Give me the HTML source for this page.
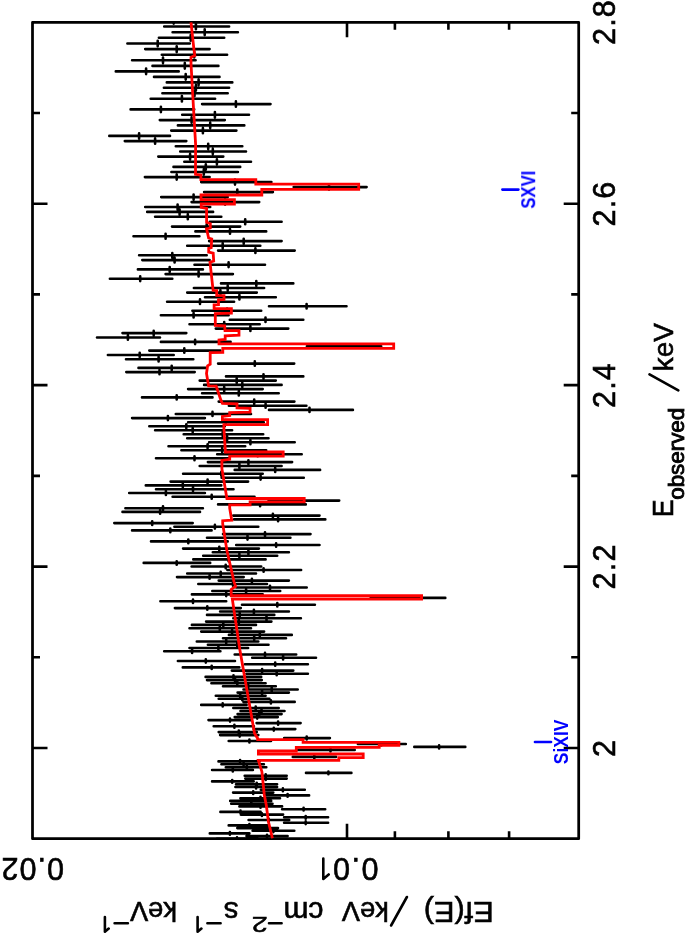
<!DOCTYPE html>
<html><head><meta charset="utf-8"><title>plot</title>
<style>html,body{margin:0;padding:0;background:#fff}svg{display:block}text{font-family:"Liberation Sans",sans-serif;fill:#000}</style></head><body>
<svg width="686" height="935" viewBox="0 0 686 935">
<rect x="0" y="0" width="686" height="935" fill="#fff"/>
<defs><clipPath id="c"><rect x="31.2" y="21.0" width="548.8" height="819.0"/></clipPath></defs>
<rect x="32.5" y="22.3" width="546.2" height="816.4" fill="none" stroke="#000" stroke-width="2.75" stroke-linejoin="round"/>
<path d="M32.5 748.0h15.0M578.7 748.0h-15.0M32.5 657.3h7.5M578.7 657.3h-7.5M32.5 566.6h15.0M578.7 566.6h-15.0M32.5 475.9h7.5M578.7 475.9h-7.5M32.5 385.1h15.0M578.7 385.1h-15.0M32.5 294.4h7.5M578.7 294.4h-7.5M32.5 203.7h15.0M578.7 203.7h-15.0M32.5 113.0h7.5M578.7 113.0h-7.5M347.0 22.3v15.0M347.0 838.7v-15.0M394.9 22.3v7.5M394.9 838.7v-7.5M448.4 22.3v7.5M448.4 838.7v-7.5M509.1 22.3v7.5M509.1 838.7v-7.5" stroke="#000" stroke-width="2.6" fill="none"/>
<g clip-path="url(#c)">
<path d="M141.6 20.7H206.4M173.7 17.9V23.6M164.2 26.5H229.1M195.9 23.6V29.3M172.6 32.2H237.9M204.7 29.3V35.0M158.9 37.8H224.2M190.7 35.0V40.7M127.4 43.5H189.8M157.7 40.7V46.3M145.2 49.1H209.6M176.7 46.3V51.9M161.8 54.7H227.1M194.2 51.9V57.5M132.1 60.3H195.6M163.0 57.5V63.1M152.5 65.9H218.4M184.8 63.1V68.6M115.8 71.4H178.7M146.1 68.6V74.1M154.0 76.9H219.5M185.7 74.1V79.6M166.8 82.4H232.3M198.6 79.6V85.1M163.9 87.8H229.1M195.9 85.1V90.6M162.4 93.3H227.7M194.5 90.6V96.0M150.7 98.7H215.1M181.9 96.0V101.4M202.1 104.1H270.5M235.9 101.4V106.7M130.6 109.4H194.2M160.9 106.7V112.1M182.2 114.8H249.0M214.9 112.1V117.4M159.8 120.1H224.8M191.6 117.4V122.7M177.9 125.4H244.3M210.2 122.7V128.0M171.2 130.6H236.4M202.9 128.0V133.3M109.3 135.9H170.0M139.1 133.3V138.5M124.8 141.1H186.3M155.1 138.5V143.7M175.8 146.3H242.3M208.2 143.7V148.9M180.2 151.5H246.0M212.8 148.9V154.1M158.3 156.6H223.3M190.1 154.1V159.2M184.3 161.8H251.0M216.9 159.2V164.3M173.5 166.9H240.2M205.8 164.3V169.4M171.4 172.0H237.9M203.8 169.4V174.5M144.9 177.1H209.6M176.7 174.5V179.6M201.2 182.1H271.4M235.0 179.6V184.6M293.7 187.1H366.6M329.0 184.6V189.6M204.1 192.1H272.9M237.3 189.6V194.6M161.2 197.1H227.7M193.6 194.6V199.6M191.6 202.1H259.2M225.1 199.6V204.6M145.2 207.0H210.2M177.6 204.6V209.5M147.2 211.9H213.1M179.6 209.5V214.4M155.1 216.8H221.3M187.8 214.4V219.3M209.9 221.7H281.6M245.2 219.3V224.2M172.0 226.6H240.2M206.7 224.2V229.0M195.4 231.4H266.2M230.0 229.0V233.8M133.5 236.3H199.4M165.6 233.8V238.7M209.1 241.1H281.6M243.7 238.7V243.4M187.2 245.8H260.3M222.7 243.4V248.2M218.1 250.6H294.7M255.4 248.2V253.0M139.1 255.3H206.7M172.3 253.0V257.7M142.3 260.1H209.6M174.6 257.7V262.4M194.5 264.8H265.0M228.6 262.4V267.1M137.9 269.4H202.9M169.7 267.1V271.8M165.6 274.1H232.9M198.6 271.8V276.4M109.9 278.8H172.3M140.2 276.4V281.1M221.0 283.4H293.3M256.3 281.1V285.7M193.9 288.0H264.1M227.7 285.7V290.3M187.2 292.6H256.8M220.4 290.3V294.9M205.0 297.2H275.8M239.4 294.9V299.4M167.1 301.7H234.1M200.0 299.4V304.0M269.0 306.2H346.5M306.6 304.0V308.5M192.4 310.8H261.2M227.1 308.5V313.0M160.9 315.3H228.6M193.6 313.0V317.5M229.8 319.7H303.3M265.5 317.5V322.0M189.5 324.2H259.7M224.2 322.0V326.4M215.8 328.6H288.3M250.4 326.4V330.9M122.5 333.1H186.3M153.7 330.9V335.3M97.0 337.5H160.0M127.9 335.3V339.7M160.9 341.9H230.6M195.1 339.7V344.1M306.9 346.3H381.2M342.8 346.2V346.4M149.3 350.6H220.4M184.3 348.4V352.8M107.9 355.0H173.7M139.7 352.8V357.1M126.0 359.3H193.3M158.6 357.1V361.4M218.1 363.6H294.2M254.8 361.4V365.7M138.5 367.9H205.8M171.7 365.7V370.0M126.3 372.1H194.7M159.5 370.0V374.3M226.0 376.4H303.3M263.5 374.3V378.5M199.7 380.6H275.8M236.7 378.5V382.8M204.1 384.9H281.6M242.3 382.8V387.0M188.1 389.1H262.7M224.2 387.0V391.2M202.1 393.3H278.7M238.8 391.2V395.4M142.0 397.4H212.5M176.7 395.4V399.5M218.7 401.6H294.4M254.2 399.5V403.7M228.9 405.7H306.4M265.6 403.7V407.8M269.0 409.9H352.9M309.5 407.8V411.9M175.8 414.0H251.0M212.5 411.9V416.0M132.1 418.1H204.9M167.9 416.0V420.1M188.1 422.2H263.8M225.7 420.1V424.2M149.3 426.2H224.8M186.3 424.2V428.3M155.1 430.3H232.1M192.7 428.3V432.3M183.7 434.3H263.2M222.7 432.3V436.3M187.2 438.3H268.5M227.1 436.3V440.3M209.1 442.3H294.7M250.4 440.3V444.3M168.5 446.3H245.2M207.6 444.3V448.3M181.4 450.3H266.2M222.2 448.3V452.3M217.2 454.3H301.7M257.7 452.3V456.2M156.0 458.2H229.1M194.5 456.2V460.2M207.9 462.1H292.1M248.4 460.2V464.1M199.7 466.0H281.6M239.4 464.1V468.0M234.7 469.9H320.1M275.2 468.0V471.9M183.1 473.8H262.7M221.3 471.9V475.8M221.6 477.7H303.8M260.6 475.8V479.6M170.6 481.6H248.1M207.6 479.6V483.5M145.8 485.4H221.3M182.8 483.5V487.3M156.0 489.2H233.5M193.0 487.3V491.1M129.2 493.0H204.9M165.9 491.1V494.9M172.6 496.8H254.5M211.7 494.9V498.7M268.6 500.6H339.2M302.3 500.5V500.7M218.1 504.4H305.8M260.1 502.5V506.3M125.4 508.2H202.9M163.0 506.3V510.0M122.5 511.9H200.0M160.1 510.0V513.8M233.3 515.6H319.5M272.9 513.8V517.5M234.1 519.4H325.3M278.1 517.5V521.2M114.3 523.1H192.7M152.2 521.2V524.9M174.4 526.7H258.3M214.9 524.9V528.6M132.1 530.4H211.6M170.3 528.6V532.3M223.0 534.1H310.5M265.0 532.3V535.9M207.0 537.7H290.4M247.5 535.9V539.6M151.0 541.4H227.7M188.3 539.6V543.2M236.2 545.0H319.5M276.1 543.2V546.8M183.1 548.6H258.9M219.3 546.8V550.4M212.8 552.2H288.9M248.4 550.4V554.0M203.2 555.8H277.2M239.4 554.0V557.6M193.3 559.4H265.6M228.6 557.6V561.2M143.7 562.9H210.2M176.7 561.2V564.7M191.6 566.5H261.2M225.7 564.7V568.3M227.4 570.0H301.1M263.6 568.3V571.8M187.2 573.5H256.0M220.7 571.8V575.3M177.0 577.1H243.7M209.6 575.3V578.8M218.7 580.6H288.9M251.9 578.8V582.3M198.3 584.0H267.0M233.0 582.3V585.8M236.2 587.5H306.7M270.0 585.8V589.2M212.3 591.0H280.2M246.1 589.2V592.7M191.9 594.4H262.7M226.2 592.7V596.1M370.7 597.9H445.3M406.3 597.8V598.0M160.4 601.3H226.2M193.0 599.6V603.0M242.0 604.7H314.9M277.3 603.0V606.4M174.9 608.1H240.8M207.3 606.4V609.8M220.1 611.5H288.9M253.9 609.8V613.2M207.0 614.9H274.3M239.7 613.2V616.6M233.3 618.2H300.9M266.5 616.6V619.9M206.1 621.6H271.4M238.8 619.9V623.3M191.9 624.9H256.0M223.3 623.3V626.6M189.5 628.3H251.0M219.8 626.6V629.9M201.2 631.6H264.1M232.1 629.9V633.2M228.9 634.9H291.8M259.8 633.2V636.5M223.0 638.2H286.0M254.2 636.5V639.8M196.8 641.5H258.3M226.2 639.8V643.1M207.9 644.8H268.5M237.3 643.1V646.4M189.5 648.0H248.1M218.4 646.4V649.6M164.2 651.3H220.4M192.1 649.6V652.9M234.7 654.5H296.2M265.0 652.9V656.1M252.2 657.7H316.0M283.1 656.1V659.4M177.9 661.0H235.0M205.8 659.4V662.6M244.9 664.2H307.9M275.2 662.6V665.8M182.8 667.4H239.3M211.7 665.8V669.0M231.8 670.6H293.3M262.1 669.0V672.1M246.4 673.7H307.9M276.7 672.1V675.3M205.6 676.9H261.2M233.5 675.3V678.5M207.0 680.1H261.8M235.0 678.5V681.6M211.4 683.2H265.6M237.3 681.6V684.8M223.0 686.3H275.8M248.1 684.8V687.9M243.5 689.5H297.7M271.7 687.9V691.0M237.6 692.6H288.9M262.1 691.0V694.1M215.8 695.7H265.6M240.2 694.1V697.2M218.7 698.8H269.4M242.3 697.2V700.3M243.5 701.9H294.7M270.9 700.3V703.4M201.2 704.9H246.6M222.7 703.4V706.5M233.3 708.0H278.7M255.7 706.5V709.5M240.5 711.0H284.5M261.5 709.5V712.6M237.6 714.1H281.6M259.2 712.6V715.6M234.7 717.1H277.8M257.2 715.6V718.6M208.5 720.1H251.0M230.0 718.6V721.6M256.6 723.1H300.6M278.1 721.6V724.7M213.7 726.2H253.9M234.4 724.7V727.7M253.7 729.1H295.3M273.8 727.7V730.6M218.7 732.1H256.8M238.8 730.6V733.6M220.1 735.1H258.3M239.7 733.6V736.6M284.2 738.1H329.9M306.7 736.6V739.5M228.7 741.0H271.0M249.4 739.5V742.5M357.9 744.0H405.8M381.3 742.5V745.4M414.3 746.9H465.3M439.1 745.4V748.4M298.1 749.9H354.7M330.5 748.4V751.4M292.8 756.9H336.0M314.3 755.4V758.4M218.5 761.4H259.6M240.1 760.0V762.9M221.4 764.3H263.9M243.6 762.9V765.8M225.8 767.2H266.3M246.8 765.8V768.6M212.1 770.0H252.9M232.8 768.6V771.5M306.0 772.9H351.4M328.4 771.5V774.3M244.7 775.7H286.7M265.7 774.3V777.2M245.3 778.6H286.7M265.7 777.2V780.0M212.1 781.4H253.7M232.2 780.0V782.8M236.0 784.2H277.1M256.7 782.8V785.6M235.4 787.0H277.1M256.1 785.6V788.4M260.8 789.8H304.8M282.9 788.4V791.2M233.1 792.6H273.3M253.2 791.2V794.0M265.7 795.4H309.1M287.6 794.0V796.8M240.4 798.2H280.0M260.5 796.8V799.5M230.2 800.9H271.2M251.3 799.5V802.3M231.2 803.7H272.5M251.3 802.3V805.1M239.4 806.4H282.1M260.5 805.1V807.8M282.1 809.2H325.2M303.6 807.8V810.5M220.4 811.9H260.6M240.5 810.5V813.3M240.8 814.6H283.1M261.9 813.3V816.0M284.1 817.3H328.1M305.7 816.0V818.7M248.6 820.0H289.2M268.7 818.7V821.4M284.1 822.7H328.1M305.7 821.4V824.1M228.7 825.4H268.3M249.4 824.1V826.7M237.3 828.1H278.0M257.4 826.7V829.4M252.6 830.8H294.3M273.4 829.4V832.1M209.8 833.4H249.4M229.9 832.1V834.7M246.5 836.1H287.6M267.0 834.7V837.4M216.9 838.7H257.6M237.0 837.4V840.0" stroke="#000" stroke-width="2.6" stroke-linecap="round" fill="none"/>
<polyline points="191.0,22.3 193.9,49.2 194.8,55.6 191.0,57.3 191.0,63.7 193.9,115.0 195.6,144.2 195.5,174.3 200.9,175.0 200.9,179.7 255.8,179.7 255.8,184.2 358.7,184.2 358.7,189.3 261.8,189.3 261.8,195.0 201.0,195.0 201.0,199.7 234.4,199.7 234.4,204.0 201.2,204.0 201.2,207.4 206.6,208.5 206.6,222.2 210.3,223.6 210.3,228.0 206.6,228.9 208.6,238.0 211.7,239.0 211.2,247.6 208.7,248.3 208.7,252.2 213.2,253.2 213.7,261.0 210.0,262.3 213.1,290.3 216.7,290.6 216.7,295.4 224.0,295.7 224.0,299.4 218.5,299.9 218.5,304.6 214.1,304.9 214.1,308.7 231.4,308.7 231.4,313.2 215.3,313.5 215.3,325.4 224.6,325.8 225.0,330.7 239.0,330.7 239.0,335.1 225.2,335.8 225.2,339.5 219.0,340.0 219.0,343.9 393.7,343.9 393.7,348.3 222.8,348.3 222.8,352.3 210.2,352.7 210.2,364.3 207.6,365.8 206.5,373.5 208.6,386.0 216.2,386.2 221.0,400.4 222.4,403.3 237.0,403.9 237.0,407.9 250.1,408.3 250.1,412.1 229.7,412.7 229.7,415.6 222.4,416.4 222.4,419.7 267.6,419.7 267.6,424.6 223.9,424.6 223.9,428.1 225.4,452.0 283.2,452.0 283.2,456.2 229.7,456.2 229.7,459.3 221.9,460.4 221.9,468.7 226.9,498.5 304.2,498.5 304.2,501.9 250.1,501.9 250.1,504.8 229.7,504.8 229.7,508.1 231.7,520.2 222.7,520.7 222.7,523.6 226.8,550.0 234.1,582.1 235.6,586.4 231.2,589.4 231.2,595.7 421.6,595.7 421.6,599.0 232.3,599.0 239.9,650.0 254.5,733.3 257.7,738.5 257.7,739.7 303.1,739.7 303.1,742.3 398.9,742.3 398.9,745.4 379.2,745.4 379.2,747.4 296.3,747.4 296.3,750.9 258.4,750.9 258.4,754.0 363.2,754.0 363.2,757.6 338.8,757.6 338.8,760.4 258.4,760.4 261.9,771.7 264.3,795.0 266.3,805.2 268.4,821.5 272.4,838.3" fill="none" stroke="#f00" stroke-width="2.8" stroke-linejoin="miter" stroke-linecap="butt"/>
</g>
<g style="opacity:0.999" stroke="#000" stroke-width="0.6">
<g font-size="30.5">
<text transform="translate(614.7,22.0) rotate(-90)" text-anchor="middle" letter-spacing="1.2">2.8</text>
<text transform="translate(614.7,203.5) rotate(-90)" text-anchor="middle" letter-spacing="1.2">2.6</text>
<text transform="translate(614.7,385.0) rotate(-90)" text-anchor="middle" letter-spacing="1.2">2.4</text>
<text transform="translate(614.7,566.4) rotate(-90)" text-anchor="middle" letter-spacing="1.2">2.2</text>
<text transform="translate(614.7,748.4) rotate(-90)" text-anchor="middle">2</text>
<text transform="translate(32.3,858.1) rotate(180)" text-anchor="middle" letter-spacing="1.0">0.02</text>
<text transform="translate(378.6,858.1) rotate(180)" letter-spacing="1.6">0.0</text>
</g>
<g font-size="29.5">
<text transform="translate(673.0,517.2) rotate(-90)" font-size="30.2" textLength="17.8" lengthAdjust="spacingAndGlyphs">E</text>
<text transform="translate(683.6,499.8) rotate(-90)" font-size="22.5" stroke-width="0.9" textLength="92" lengthAdjust="spacingAndGlyphs">observed</text>
<text transform="translate(673.0,371.2) rotate(-90)" font-size="28.2" textLength="48" lengthAdjust="spacingAndGlyphs">keV</text>
<text transform="translate(493.8,901.6) rotate(180)" font-size="30.2" textLength="70" lengthAdjust="spacingAndGlyphs">Ef(E)</text>
<text transform="translate(388.8,901.6) rotate(180)" font-size="28.2" textLength="47" lengthAdjust="spacingAndGlyphs">keV</text>
<text transform="translate(323.4,901.6) rotate(180)" textLength="40" lengthAdjust="spacingAndGlyphs">cm</text>
<text transform="translate(238.6,901.6) rotate(180)">s</text>
<text transform="translate(177.0,901.6) rotate(180)" font-size="28.2" textLength="47" lengthAdjust="spacingAndGlyphs">keV</text>
</g>
<text transform="translate(267.8,916.6) rotate(180)" font-size="22.5" stroke-width="0.5" textLength="16" lengthAdjust="spacingAndGlyphs">2</text>
<path d="M678.3 390.3L649.5 374.3M406.9 897L391.1 925.5M281.6 923.3H269M220.6 923.3H207.4M127.9 923.3H114.6M104.9 917V931.8L108.7 928.6M197.6 917V931.8L201.4 928.6M323.3 858.6V879L328.7 874.5" stroke-width="2.6" stroke-linecap="round" stroke-linejoin="round" fill="none"/>
<g fill="#00f" font-size="21" font-weight="bold" stroke="none">
<path d="M502.4 189.6H518.4M535 742H551" stroke="#00f" stroke-width="2.7" stroke-linecap="round" fill="none"/>
<text transform="translate(535.2,189.6) rotate(-90)" text-anchor="middle" textLength="38" lengthAdjust="spacingAndGlyphs" style="fill:#00f">SXVI</text>
<text transform="translate(568.3,741.9) rotate(-90)" text-anchor="middle" textLength="44.5" lengthAdjust="spacingAndGlyphs" style="fill:#00f">SiXIV</text>
</g>
</g>

</svg></body></html>
